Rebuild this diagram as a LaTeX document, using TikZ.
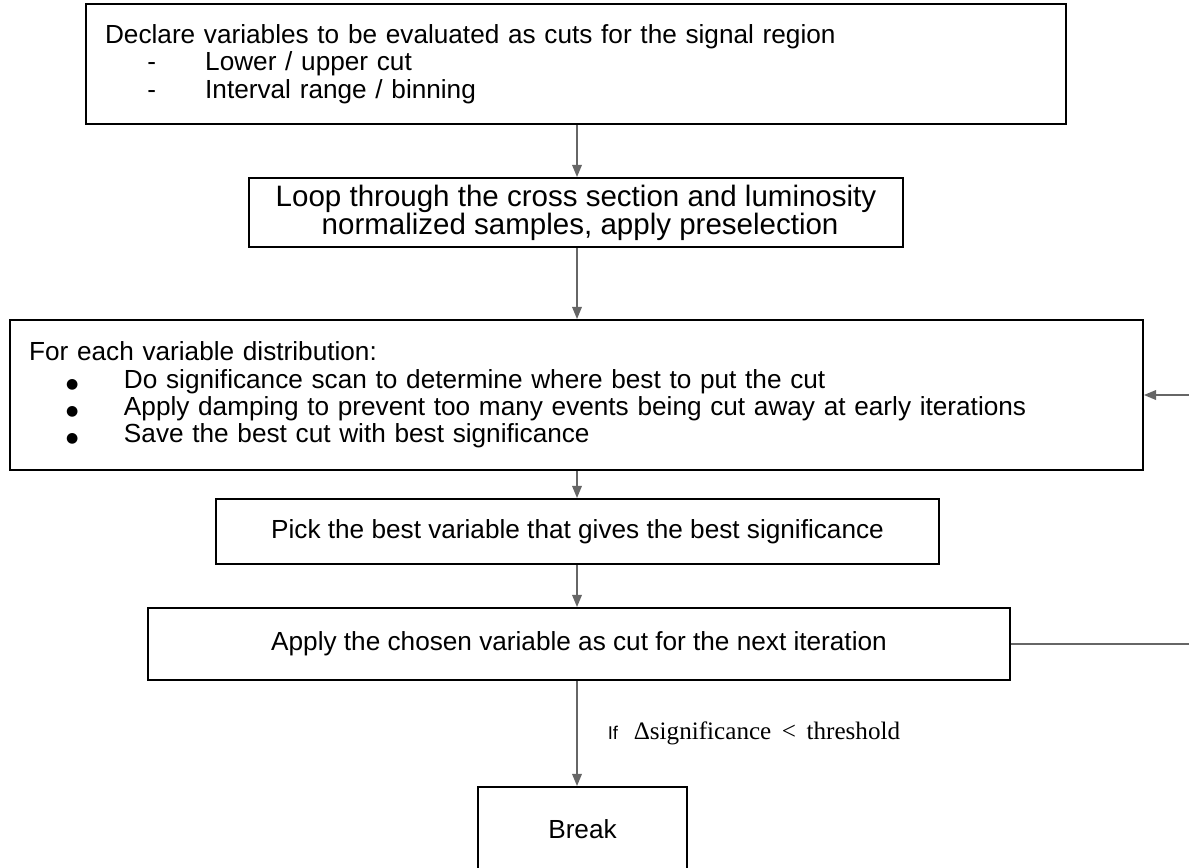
\documentclass[tikz,border=0pt]{standalone}
\usepackage{fontspec}
\setmainfont{Liberation Sans}
\newfontfamily\lserif{Liberation Serif}
\newfontfamily\dejavu{DejaVu Sans}
\usetikzlibrary{calc,positioning,arrows.meta}

\newcommand{\dashitem}[1]{\hspace*{24pt}\makebox[33pt][l]{-}#1}
\newcommand{\dotitem}[1]{\hspace*{21pt}\makebox[33pt][l]{{\dejavu\footnotesize ●}}#1}

\begin{document}
\begin{tikzpicture}[x=0.02cm,y=-0.02cm,
  box/.style={draw,line width=1.1pt,inner xsep=0.38cm,inner ysep=0pt,
    font=\fontsize{14.9pt}{15.6pt}\selectfont},
  flow/.style={draw=black!60,line width=1pt,-{Triangle[length=7pt,width=5.5pt]}}]

\clip (0,0) rectangle (1189,867);

% Nodes
\node[box,align=left,text width=18.84cm,minimum width=19.6cm,minimum height=2.4cm] (declare) at (576,64)
  {Declare variables to be evaluated as cuts for the signal region\\
   \dashitem{Lower / upper cut}\\
   \dashitem{Interval range / binning}};
\node[box,align=center,minimum width=13.08cm,minimum height=1.38cm,
  font=\fontsize{16.8pt}{16pt}\selectfont] (loop-samples) at (576,212.5)
  {Loop through the cross section and luminosity\\
   \ normalized samples, apply preselection};
\node[box,align=left,text width=21.9cm,minimum width=22.66cm,minimum height=3cm] (scan-vars) at (576.5,395)
  {For each variable distribution:\\
   \dotitem{Do significance scan to determine where best to put the cut}\\
   \dotitem{Apply damping to prevent too many events being cut away at early iterations}\\
   \dotitem{Save the best cut with best significance}};
\node[box,minimum width=14.46cm,minimum height=1.3cm] (pick-best) at (577.5,531.5)
  {Pick the best variable that gives the best significance};
\node[box,minimum width=17.24cm,minimum height=1.44cm] (apply-cut) at (579,644)
  {Apply the chosen variable as cut for the next iteration};
\node[box,minimum width=4.18cm,minimum height=1.68cm] (stop) at (582.5,829) {Break};

% The loop back
\coordinate (loop-out) at (1200,644);
\coordinate (loop-in) at (1200,395);

% The arrows
\draw[flow] (declare.south -| 577,0) -- (loop-samples.north -| 577,0);
\draw[flow] (loop-samples.south -| 577,0) -- (scan-vars.north -| 577,0);
\draw[flow] (scan-vars.south -| 577,0) -- (pick-best.north -| 577,0);
\draw[flow] (pick-best.south -| 577,0) -- (apply-cut.north -| 577,0);
\draw[flow] (apply-cut.south -| 577,0) -- node[right=17pt,inner sep=0pt]
  {{\fontsize{10.5pt}{12pt}\selectfont If}\hspace{9pt}{\lserif\fontsize{14.3pt}{16pt}\selectfont Δsignificance\hspace{6pt}<\hspace{6pt}threshold}}
  (stop.north -| 577,0);
\draw[draw=black!60,line width=1pt] (apply-cut.east) -- (loop-out);
\draw[flow] (loop-out) -- (loop-in) -- (scan-vars.east |- loop-in);

\end{tikzpicture}
\end{document}
